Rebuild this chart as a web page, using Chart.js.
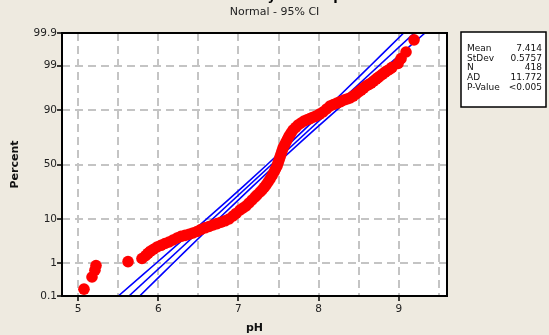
<!DOCTYPE html>
<html>
<head>
<meta charset="utf-8">
<script src="https://cdn.jsdelivr.net/npm/chart.js@4.4.1/dist/chart.umd.min.js"></script>
<style>
html,body{margin:0;padding:0;background:#eeeae0;overflow:hidden;}
canvas{display:block;}
</style>
</head>
<body>
<canvas id="c" width="549" height="335"></canvas>
<script>
// ---- data ----
const phValues = [5.074,5.174,5.211,5.224,5.623,5.797,5.841,5.872,5.903,5.941,
  5.985,6.034,6.084,6.134,6.184,6.234,6.284,6.334,6.384,6.433,6.483,6.533,6.583,6.633,6.683,6.733,6.783,6.832,6.882,6.932,
  6.970,7.020,7.057,7.094,7.132,7.169,7.207,7.231,7.269,7.294,7.319,7.344,7.369,7.394,7.419,7.444,7.462,7.481,
  7.493,7.506,7.518,7.531,7.543,7.556,7.574,7.593,7.612,7.631,7.655,7.680,7.712,7.743,
  7.780,7.818,7.855,7.892,7.930,7.967,8.011,8.054,
  8.098,8.142,8.185,8.229,8.273,8.316,8.354,8.391,8.429,8.466,8.497,8.528,8.559,8.591,8.622,8.653,8.684,8.715,8.740,8.765,8.796,8.828,8.859,8.890,
  8.915,8.990,9.027,9.089,9.189];
const percentValues = [0.17,0.41,0.65,0.88,1.12,1.36,1.60,1.84,2.08,2.32,
  2.63,2.88,3.17,3.43,3.80,4.21,4.58,4.79,5.06,5.38,5.77,6.34,6.85,7.26,7.76,8.25,8.76,9.30,10.02,11.31,
  12.49,14.25,15.34,16.48,18.28,20.21,22.26,23.68,25.91,27.46,29.45,31.51,34.05,36.67,39.81,43.01,45.79,48.60,
  51.40,54.21,56.99,59.74,62.44,65.09,67.66,70.14,72.55,74.85,77.02,79.12,80.77,82.33,
  83.52,84.66,85.34,85.96,86.68,87.27,88.19,89.13,
  90.39,91.54,92.07,92.57,93.03,93.52,93.81,94.10,94.62,95.12,95.58,95.99,96.36,96.75,96.99,97.22,97.50,97.77,97.95,98.12,98.32,98.50,98.64,98.76,
  98.88,99.12,99.36,99.59,99.83];

const fitPercents = [0.1, 99.9];
const fitValues = [5.635, 9.193];

const ciPercents = [0.1, 0.5, 1, 2, 5, 10, 20, 30, 50, 70, 80, 90, 95, 98, 99, 99.5, 99.9];
const lowerCI = [5.502, 5.816, 5.969, 6.135, 6.382, 6.601, 6.866, 7.053, 7.359, 7.657, 7.834, 8.077, 8.276, 8.499, 8.647, 8.782, 9.060];
const upperCI = [5.768, 6.046, 6.181, 6.329, 6.552, 6.750, 6.994, 7.171, 7.469, 7.775, 7.962, 8.227, 8.446, 8.693, 8.859, 9.012, 9.326];

const xTickValues = [5, 5.5, 6, 6.5, 7, 7.5, 8, 8.5, 9, 9.5];
const xTickLabels = ['5', '', '6', '', '7', '', '8', '', '9', ''];
const yTickValues = [0.1, 1, 10, 50, 90, 99, 99.9];
const yTickLabels = ['0.1', '1', '10', '50', '90', '99', '99.9'];

const statLabels = ['Mean', 'StDev', 'N', 'AD', 'P-Value'];
const statValues = ['7.414', '0.5757', '418', '11.772', '<0.005'];

const chartTitle = 'Probability Plot of pH';
const chartSubtitle = 'Normal - 95% CI';
const xTitle = 'pH';
const yTitle = 'Percent';

// ---- normal probability scale ----
function probit(p) {
  const a=[-3.969683028665376e+01,2.209460984245205e+02,-2.759285104469687e+02,1.383577518672690e+02,-3.066479806614716e+01,2.506628277459239e+00];
  const b=[-5.447609879822406e+01,1.615858368580409e+02,-1.556989798598866e+02,6.680131188771972e+01,-1.328068155288572e+01];
  const c=[-7.784894002430293e-03,-3.223964580411365e-01,-2.400758277161838e+00,-2.549732539343734e+00,4.374664141464968e+00,2.938163982698783e+00];
  const d=[7.784695709041462e-03,3.224671290700398e-01,2.445134137142996e+00,3.754408661907416e+00];
  const pl = 0.02425, ph = 1 - pl;
  let q, r;
  if (p < pl) { q = Math.sqrt(-2*Math.log(p)); return (((((c[0]*q+c[1])*q+c[2])*q+c[3])*q+c[4])*q+c[5])/((((d[0]*q+d[1])*q+d[2])*q+d[3])*q+1); }
  if (p > ph) { q = Math.sqrt(-2*Math.log(1-p)); return -(((((c[0]*q+c[1])*q+c[2])*q+c[3])*q+c[4])*q+c[5])/((((d[0]*q+d[1])*q+d[2])*q+d[3])*q+1); }
  q = p - 0.5; r = q*q;
  return (((((a[0]*r+a[1])*r+a[2])*r+a[3])*r+a[4])*r+a[5])*q/(((((b[0]*r+b[1])*r+b[2])*r+b[3])*r+b[4])*r+1);
}
function normCdf(z) {
  const t = 1/(1+0.2316419*Math.abs(z));
  const y = 0.3989423*Math.exp(-z*z/2)*t*(0.3193815+t*(-0.3565638+t*(1.781478+t*(-1.821256+t*1.330274))));
  return z > 0 ? 1 - y : y;
}
class ProbabilityScale extends Chart.Scale {
  determineDataLimits() { this.min = this.options.min; this.max = this.options.max; }
  buildTicks() { return yTickValues.map(v => ({value: v})); }
  getLabelForValue(v) { return String(v); }
  configure() {
    super.configure();
    this._zMin = probit(this.min/100);
    this._zMax = probit(this.max/100);
  }
  getPixelForValue(v) {
    const z = probit(v/100);
    return this.getPixelForDecimal((z - this._zMin)/(this._zMax - this._zMin));
  }
  getValueForPixel(px) {
    const dd = this.getDecimalForPixel(px);
    return 100*normCdf(this._zMin + dd*(this._zMax - this._zMin));
  }
}
ProbabilityScale.id = 'probability';
ProbabilityScale.defaults = {};
Chart.register(ProbabilityScale);

const toPts = (xs, ys) => xs.map((x, i) => ({x: x, y: ys[i]}));

const FONT = 'DejaVu Sans';
Chart.defaults.font.family = FONT;

const decor = {
  id: 'decor',
  beforeDraw(chart) {
    const ctx = chart.ctx, a = chart.chartArea;
    ctx.save();
    ctx.fillStyle = '#eeeae0';
    ctx.fillRect(0, 0, chart.width, chart.height);
    ctx.fillStyle = '#ffffff';
    ctx.fillRect(a.left, a.top, a.right - a.left, a.bottom - a.top);
    ctx.restore();
  },
  afterDraw(chart) {
    const ctx = chart.ctx, a = chart.chartArea;
    ctx.save();
    // frame
    ctx.strokeStyle = '#000';
    ctx.lineWidth = 2;
    ctx.strokeRect(a.left, a.top, a.right - a.left, a.bottom - a.top);
    // titles
    ctx.fillStyle = '#000';
    ctx.textAlign = 'center';
    ctx.textBaseline = 'alphabetic';
    ctx.font = 'bold 13px ' + FONT;
    ctx.fillText(chartTitle, 274.5, 0);
    ctx.fillStyle = '#222';
    ctx.font = '11px ' + FONT;
    ctx.fillText(chartSubtitle, 274.5, 15);
    // axis titles
    ctx.fillStyle = '#111';
    ctx.font = 'bold 11px ' + FONT;
    ctx.fillText(xTitle, (a.left + a.right)/2, 330.5);
    ctx.save();
    ctx.translate(18, (a.top + a.bottom)/2);
    ctx.rotate(-Math.PI/2);
    ctx.fillText(yTitle, 0, 0);
    ctx.restore();
    // stats box
    ctx.fillStyle = '#fff';
    ctx.fillRect(461, 32, 85, 75);
    ctx.strokeStyle = '#000';
    ctx.lineWidth = 1.5;
    ctx.strokeRect(461, 32, 85, 75);
    ctx.fillStyle = '#111';
    ctx.font = '9px ' + FONT;
    ctx.textBaseline = 'middle';
    statLabels.forEach((s, i) => {
      const y = 48.5 + i*9.8;
      ctx.textAlign = 'left';
      ctx.fillText(s, 467, y);
      ctx.textAlign = 'right';
      ctx.fillText(statValues[i], 542, y);
    });
    ctx.restore();
  }
};

new Chart(document.getElementById('c'), {
  type: 'scatter',
  data: {
    datasets: [
      {
        label: 'pH',
        data: toPts(phValues, percentValues),
        backgroundColor: '#ff0000',
        borderColor: '#ff0000',
        pointRadius: 5.8,
        pointBorderWidth: 0,
        order: 0
      },
      {
        label: 'Fit',
        data: toPts(fitValues, fitPercents),
        showLine: true,
        borderColor: '#0000ff',
        borderWidth: 1.6,
        pointRadius: 0,
        order: 1
      },
      {
        label: 'Lower CI',
        data: toPts(lowerCI, ciPercents),
        showLine: true,
        borderColor: '#0000ff',
        borderWidth: 1.6,
        pointRadius: 0,
        order: 1
      },
      {
        label: 'Upper CI',
        data: toPts(upperCI, ciPercents),
        showLine: true,
        borderColor: '#0000ff',
        borderWidth: 1.6,
        pointRadius: 0,
        order: 1
      }
    ]
  },
  options: {
    responsive: false,
    animation: false,
    devicePixelRatio: 1,
    layout: {padding: {left: 0, top: 33, right: 102, bottom: 0}},
    plugins: {legend: {display: false}, tooltip: {enabled: false}, title: {display: false}},
    scales: {
      x: {
        type: 'linear',
        min: 4.8,
        max: 9.6,
        afterBuildTicks: (s) => { s.ticks = xTickValues.map(v => ({value: v})); },
        afterFit: (s) => { s.height = 39; },
        ticks: {
          autoSkip: false,
          maxRotation: 0,
          padding: 2,
          color: '#222',
          font: {size: 10.5},
          callback: (v) => { const i = xTickValues.indexOf(v); return i >= 0 ? xTickLabels[i] : ''; }
        },
        grid: {
          color: '#c4c4c4',
          lineWidth: 2,
          tickLength: 5,
          tickWidth: 1.5,
          tickColor: (ctx) => (ctx.tick && Number.isInteger(ctx.tick.value)) ? '#000' : 'rgba(0,0,0,0)'
        },
        border: {display: false, dash: [8, 5]}
      },
      y: {
        type: 'probability',
        min: 0.1,
        max: 99.9,
        afterFit: (s) => { s.width = 62; },
        ticks: {
          padding: 0,
          color: '#222',
          font: {size: 10.5},
          callback: (v) => { const i = yTickValues.indexOf(v); return i >= 0 ? yTickLabels[i] : ''; }
        },
        grid: {
          color: '#c4c4c4',
          lineWidth: 2,
          tickLength: 5,
          tickWidth: 1.5,
          tickColor: '#000'
        },
        border: {display: false, dash: [8, 5]}
      }
    }
  },
  plugins: [decor]
});
</script>
</body>
</html>
